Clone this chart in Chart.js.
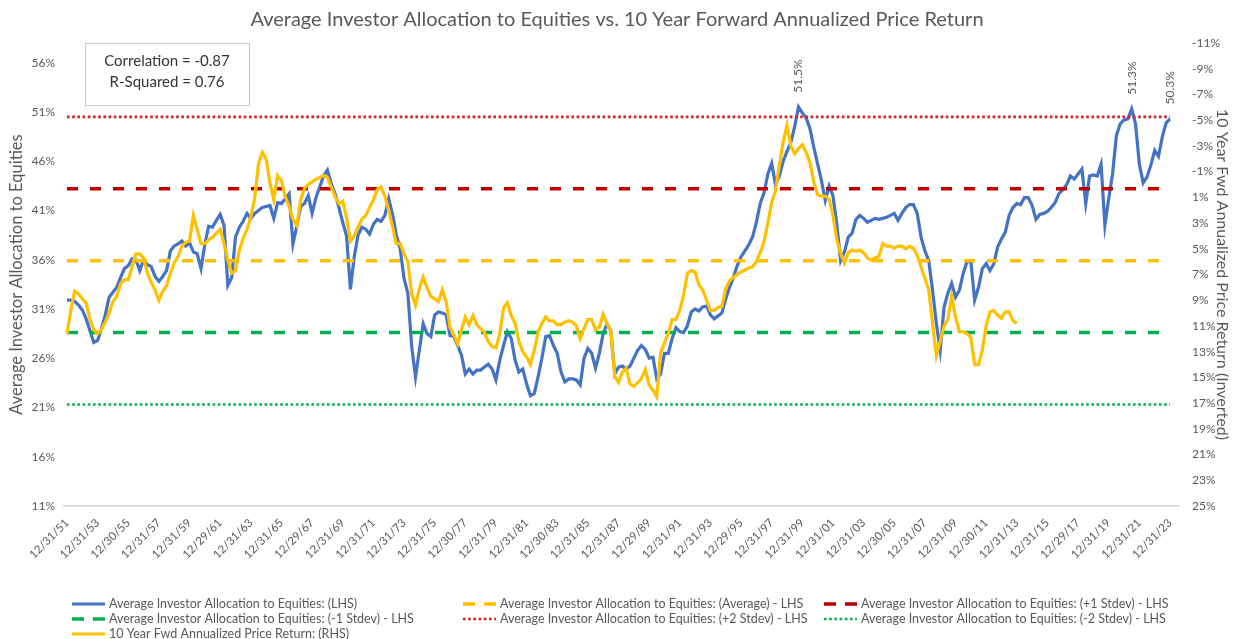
<!DOCTYPE html>
<html>
<head>
<meta charset="utf-8">
<title>Average Investor Allocation to Equities vs. 10 Year Forward Annualized Price Return</title>
<script src="https://cdn.jsdelivr.net/npm/chart.js@4.4.1/dist/chart.umd.min.js"></script>
<style>
  html, body { margin: 0; padding: 0; background: #fff; }
  #wrap { width: 1235px; height: 639px; }
</style>
</head>
<body>
<div id="wrap"><canvas id="chart" width="1235" height="639"></canvas></div>
<script>
const chartTitle = 'Average Investor Allocation to Equities vs. 10 Year Forward Annualized Price Return';

// date axis labels, one every 8 quarters
const tickLabels = [
  '12/31/51', '12/31/53', '12/30/55', '12/31/57', '12/31/59', '12/29/61', '12/31/63', '12/31/65',
  '12/29/67', '12/31/69', '12/31/71', '12/31/73', '12/31/75', '12/30/77', '12/31/79', '12/31/81',
  '12/30/83', '12/31/85', '12/31/87', '12/29/89', '12/31/91', '12/31/93', '12/29/95', '12/31/97',
  '12/31/99', '12/31/01', '12/31/03', '12/30/05', '12/31/07', '12/31/09', '12/30/11', '12/31/13',
  '12/31/15', '12/29/17', '12/31/19', '12/31/21', '12/31/23'
];
const leftTicks = [11, 16, 21, 26, 31, 36, 41, 46, 51, 56];
const rightTicks = [-11, -9, -7, -5, -3, -1, 1, 3, 5, 7, 9, 11, 13, 15, 17, 19, 21, 23, 25];

// Average investor allocation to equities (%), quarterly from Q4 1951
const allocation = [
  31.9, 31.9, 31.8, 31.4, 30.9, 30.0, 28.8, 27.6, 27.8, 29.0, 30.4, 32.2, 32.7, 33.2, 34.2, 35.1,
  35.4, 36.1, 36.0, 34.9, 36.0, 35.5, 35.3, 34.3, 33.8, 34.3, 34.9, 36.9, 37.4, 37.6, 37.9, 37.4,
  37.7, 36.8, 36.6, 35.1, 37.6, 39.4, 39.3, 40.0, 40.6, 39.5, 33.4, 34.2, 38.3, 39.3, 39.9, 40.7,
  40.2, 40.7, 41.0, 41.3, 41.4, 41.5, 40.2, 41.8, 41.7, 42.2, 42.7, 37.6, 39.4, 41.4, 41.7, 42.5,
  40.7, 42.3, 43.4, 44.5, 45.1, 43.7, 42.7, 41.3, 39.8, 38.4, 33.0, 36.3, 38.5, 39.3, 39.1, 38.6,
  39.6, 40.1, 39.9, 40.5, 42.2, 40.6, 38.5, 37.1, 34.1, 32.6, 27.2, 24.1, 26.8, 29.5, 28.5, 28.2,
  30.4, 30.7, 30.6, 30.4, 28.3, 28.2, 27.3, 26.3, 24.4, 24.9, 24.4, 24.8, 24.8, 25.1, 25.4, 24.9,
  23.8, 25.8, 27.3, 28.7, 28.0, 25.8, 24.6, 24.9, 23.4, 22.2, 22.4, 24.1, 26.0, 28.2, 28.3, 27.3,
  26.5, 24.6, 23.6, 23.9, 23.9, 23.8, 23.3, 26.0, 27.0, 26.5, 25.0, 26.5, 28.5, 29.5, 28.8, 24.4,
  25.1, 25.2, 24.9, 25.2, 26.0, 26.8, 27.3, 26.9, 26.0, 26.1, 23.9, 24.4, 26.5, 26.5, 28.0, 29.1,
  28.7, 28.6, 29.3, 30.7, 31.0, 30.8, 31.2, 31.3, 30.4, 30.0, 30.3, 30.6, 32.0, 33.2, 34.2, 35.4,
  36.3, 36.9, 37.5, 38.3, 39.8, 41.7, 42.8, 44.7, 45.8, 43.6, 44.5, 46.0, 47.0, 47.9, 49.5, 51.5,
  50.9, 50.4, 49.3, 47.4, 45.7, 44.0, 42.0, 43.5, 42.5, 39.6, 35.9, 36.8, 38.3, 38.7, 40.1, 40.5,
  40.2, 39.8, 40.0, 40.2, 40.1, 40.2, 40.3, 40.5, 40.7, 40.0, 40.7, 41.3, 41.6, 41.6, 40.7, 38.3,
  36.9, 35.9, 32.9, 29.5, 26.8, 31.2, 32.6, 33.6, 32.2, 32.9, 34.6, 35.8, 35.8, 31.9, 33.2, 35.1,
  35.6, 34.9, 35.6, 37.3, 38.1, 38.8, 40.5, 41.3, 41.7, 41.6, 42.3, 42.3, 41.5, 40.1, 40.6, 40.7,
  40.9, 41.3, 41.8, 42.7, 43.1, 43.6, 44.5, 44.2, 44.7, 45.2, 41.7, 44.5, 44.6, 44.5, 45.7, 39.5,
  42.2, 44.7, 48.6, 49.8, 50.2, 50.3, 51.3, 49.8, 45.7, 43.8, 44.4, 45.6, 47.1, 46.5, 48.5, 49.9,
  50.3
];

// 10 year forward annualized price return (%), quarterly from Q4 1951 to Q4 2013
const fwdReturn = [
  11.6, 9.8, 8.3, 8.5, 8.9, 9.2, 10.5, 11.3, 11.6, 11.3, 10.7, 10.0, 9.1, 8.7, 7.7, 7.4,
  7.4, 6.4, 5.4, 5.4, 5.7, 6.9, 7.6, 8.2, 9.0, 8.3, 7.9, 6.9, 6.1, 5.6, 4.8, 4.5,
  4.4, 2.4, 3.5, 4.6, 4.6, 4.3, 4.1, 3.8, 3.5, 4.6, 5.9, 6.9, 6.7, 5.1, 4.2, 3.5,
  2.5, 1.1, -1.6, -2.5, -2.0, -0.1, 1.2, -0.7, -0.3, 0.95, 1.7, 2.7, 3.2, 1.2, 0.3, 0.0,
  -0.2, -0.4, -0.55, -0.7, -0.55, 0.2, 0.95, 1.5, 1.3, 2.6, 4.4, 4.0, 3.3, 2.7, 2.4, 1.8,
  1.2, 0.4, 0.2, 0.9, 2.0, 3.3, 4.6, 4.6, 5.4, 6.0, 8.5, 9.4, 8.1, 7.2, 8.0, 8.7,
  8.9, 9.1, 8.2, 9.1, 11.1, 11.7, 12.4, 11.3, 10.3, 10.9, 10.2, 10.9, 11.2, 11.5, 12.2, 12.6,
  12.7, 11.6, 9.6, 9.2, 10.2, 10.8, 12.2, 13.0, 13.4, 14.0, 12.9, 11.5, 10.8, 10.3, 10.6, 10.6,
  10.9, 10.9, 10.7, 10.6, 10.7, 11.0, 12.0, 11.2, 10.5, 10.5, 11.3, 11.1, 10.1, 10.85, 11.4, 14.9,
  15.4, 14.6, 14.3, 15.5, 15.7, 15.4, 15.1, 14.4, 15.6, 16.0, 16.5, 13.1, 12.3, 11.6, 10.5, 10.5,
  9.8, 8.6, 6.9, 6.7, 6.8, 7.8, 8.2, 9.0, 9.8, 9.8, 9.55, 9.5, 8.1, 7.5, 7.2, 7.0,
  6.8, 6.65, 6.5, 6.4, 6.0, 5.3, 4.45, 3.0, 1.4, 0.5, -1.5, -3.3, -4.6, -3.0, -2.4, -2.8,
  -3.1, -2.5, -1.7, -0.2, 0.8, 0.9, 0.9, 1.15, 2.4, 4.3, 5.35, 6.1, 5.3, 5.1, 5.2, 5.1,
  5.3, 5.7, 5.9, 5.7, 5.6, 4.6, 4.8, 4.8, 4.96, 4.8, 4.8, 5.0, 4.8, 4.96, 5.5, 6.4,
  7.3, 8.2, 10.8, 13.3, 12.2, 11.0, 10.5, 8.7, 10.3, 11.45, 11.45, 11.6, 11.9, 14.0, 14.0, 12.9,
  11.0, 9.9, 9.8, 10.15, 10.4, 9.9, 9.9, 10.6, 10.8
];

// long-run statistics of the allocation series (%)
const statAverage = 35.9;
const statPlus1 = 43.2;
const statMinus1 = 28.6;
const statPlus2 = 50.5;
const statMinus2 = 21.3;

// quarters that carry a value label
const labelledQuarters = [191, 278, 288];

const statsText = ['Correlation = -0.87', 'R-Squared = 0.76'];

// quarter categories Q4 1951 .. Q4 2023
const quarters = [];
for (let i = 0; i < allocation.length; i++) {
  const t = 1951 * 4 + 3 + i;
  quarters.push(Math.floor(t / 4) + ' Q' + (t % 4 + 1));
}

const pts = arr => arr.map((v, i) => ({ x: i, y: v }));
const flat = v => quarters.map((q, i) => ({ x: i, y: v }));

const FONT = 'Lato, "Open Sans", sans-serif';
const GREY = '#595959';
Chart.defaults.font.family = FONT;
Chart.defaults.color = GREY;

function refLine(label, value, color, dashed) {
  return {
    label: label,
    data: flat(value),
    yAxisID: 'yL',
    borderColor: color,
    borderWidth: dashed ? 3.5 : 2.6,
    borderDash: dashed ? [11, 12] : [2.6, 2.6],
    borderCapStyle: 'butt',
    pointRadius: 0,
    order: 1
  };
}

const datasets = [
  {
    label: 'Average Investor Allocation to Equities: (LHS)',
    data: pts(allocation),
    yAxisID: 'yL',
    borderColor: '#4472C4',
    borderWidth: 3.2,
    pointRadius: 0,
    order: 2
  },
  refLine('Average Investor Allocation to Equities: (Average) - LHS', statAverage, '#FFC000', true),
  refLine('Average Investor Allocation to Equities: (+1 Stdev) - LHS', statPlus1, '#C00000', true),
  refLine('Average Investor Allocation to Equities: (-1 Stdev) - LHS', statMinus1, '#00B050', true),
  refLine('Average Investor Allocation to Equities: (+2 Stdev) - LHS', statPlus2, '#D81E1E', false),
  refLine('Average Investor Allocation to Equities: (-2 Stdev) - LHS', statMinus2, '#00B050', false),
  {
    label: '10 Year Fwd Annualized Price Return: (RHS)',
    data: pts(fwdReturn),
    yAxisID: 'yR',
    borderColor: '#FFC000',
    borderWidth: 3.2,
    pointRadius: 0,
    order: 0
  }
];

// title, stats box, value labels and the three-column legend
const decorations = {
  id: 'decorations',
  afterDatasetsDraw(chart) {
    const ctx = chart.ctx;
    const meta = chart.getDatasetMeta(0);
    ctx.save();
    ctx.fillStyle = GREY;
    ctx.font = '12px ' + FONT;
    ctx.textAlign = 'center';
    ctx.textBaseline = 'middle';
    labelledQuarters.forEach(i => {
      const p = meta.data[i];
      ctx.save();
      ctx.translate(p.x, p.y - 31);
      ctx.rotate(-Math.PI / 2);
      ctx.fillText(allocation[i].toFixed(1) + '%', 0, 0);
      ctx.restore();
    });
    ctx.restore();
  },
  afterDraw(chart) {
    const ctx = chart.ctx;
    ctx.save();
    ctx.textBaseline = 'middle';

    ctx.fillStyle = GREY;
    ctx.font = '20px ' + FONT;
    ctx.textAlign = 'center';
    ctx.fillText(chartTitle, 617, 20);

    ctx.strokeStyle = '#c8c8c8';
    ctx.lineWidth = 1;
    ctx.strokeRect(85.5, 43.5, 164, 62);
    ctx.fillStyle = '#333';
    ctx.font = '15px ' + FONT;
    ctx.fillText(statsText[0], 167, 61);
    ctx.fillText(statsText[1], 167, 82);

    const colX = [72, 463, 824];
    const rowY = [604, 619, 634];
    ctx.font = '12.5px ' + FONT;
    ctx.textAlign = 'left';
    chart.data.datasets.forEach((ds, k) => {
      const x = colX[k % 3], y = rowY[Math.floor(k / 3)];
      ctx.strokeStyle = ds.borderColor;
      ctx.lineCap = 'butt';
      if (!ds.borderDash) {
        ctx.lineWidth = 3;
        ctx.setLineDash([]);
      } else if (ds.borderDash[0] > 5) {
        ctx.lineWidth = 3.5;
        ctx.setLineDash([12, 9]);
      } else {
        ctx.lineWidth = 2.6;
        ctx.setLineDash([2.6, 2.6]);
      }
      ctx.beginPath();
      ctx.moveTo(x, y);
      ctx.lineTo(x + 33, y);
      ctx.stroke();
      ctx.setLineDash([]);
      ctx.fillStyle = GREY;
      ctx.fillText(ds.label, x + 37, y);
    });
    ctx.restore();
  }
};

new Chart(document.getElementById('chart'), {
  type: 'line',
  data: { datasets: datasets },
  plugins: [decorations],
  options: {
    responsive: false,
    animation: false,
    devicePixelRatio: 1,
    layout: { padding: { top: 43, left: 0, right: 0, bottom: 0 } },
    plugins: { legend: { display: false }, tooltip: { enabled: false }, title: { display: false } },
    elements: { line: { tension: 0 } },
    scales: {
      x: {
        type: 'linear',
        min: -0.78,
        max: 290.35,
        grid: { display: false },
        border: { display: true, color: '#d4d4d4', width: 1.5, dash: [2, 1] },
        afterBuildTicks: s => { s.ticks = tickLabels.map((t, i) => ({ value: i * 8 })); },
        afterFit: s => { s.height = 133; },
        ticks: {
          autoSkip: false,
          minRotation: 45,
          maxRotation: 45,
          padding: 2,
          font: { size: 11.5 },
          color: GREY,
          callback: (v, i) => tickLabels[i]
        }
      },
      yL: {
        type: 'linear',
        position: 'left',
        min: 11,
        max: 58,
        grid: { display: false, drawTicks: false },
        border: { display: false },
        afterBuildTicks: s => { s.ticks = leftTicks.map(v => ({ value: v })); },
        afterFit: s => { s.width = 64; },
        ticks: { padding: 9, font: { size: 12 }, color: GREY, callback: v => v + '%' },
        title: {
          display: true,
          text: 'Average Investor Allocation to Equities',
          font: { size: 16.5 },
          color: GREY,
          padding: { top: 7, bottom: 0 }
        }
      },
      yR: {
        type: 'linear',
        position: 'right',
        min: -11,
        max: 25,
        reverse: true,
        grid: { display: false, drawTicks: false },
        border: { display: false },
        afterBuildTicks: s => { s.ticks = rightTicks.map(v => ({ value: v })); },
        afterFit: s => { s.width = 56; },
        ticks: { padding: 13, font: { size: 12 }, color: GREY, callback: v => v + '%' },
        title: {
          display: true,
          text: '10 Year Fwd Annualized Price Return (Inverted)',
          font: { size: 16 },
          color: GREY,
          padding: { top: 3, bottom: 0 }
        }
      }
    }
  }
});
</script>
</body>
</html>
